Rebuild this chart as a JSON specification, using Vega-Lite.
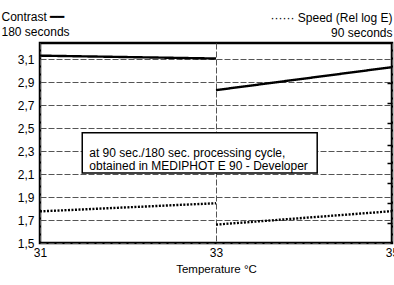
{
  "$schema": "https://vega.github.io/schema/vega-lite/v6.json",
  "autosize": "none",
  "width": 352,
  "height": 200,
  "padding": {"left": 40, "top": 43, "right": 2, "bottom": 42},
  "background": "white",
  "config": {
    "view": {"stroke": "black", "strokeWidth": 2.5},
    "axis": {
      "labelFont": "Liberation Sans",
      "titleFont": "Liberation Sans",
      "labelColor": "black",
      "titleColor": "black",
      "labelFontSize": 12,
      "titleFontSize": 11.5,
      "titleFontWeight": "normal",
      "domain": false,
      "gridColor": "#555555",
      "gridDash": [6, 2],
      "gridWidth": 1,
      "gridOpacity": 1
    }
  },
  "resolve": {"axis": {"x": "independent", "y": "independent"}},
  "datasets": {
    "curves": [
      {"series": "Contrast", "seg": "A", "t": 31, "v": 3.13},
      {"series": "Contrast", "seg": "A", "t": 33, "v": 3.105},
      {"series": "Contrast", "seg": "B", "t": 33, "v": 2.83},
      {"series": "Contrast", "seg": "B", "t": 35, "v": 3.03},
      {"series": "Speed", "seg": "A", "t": 31, "v": 1.775},
      {"series": "Speed", "seg": "A", "t": 33, "v": 1.846},
      {"series": "Speed", "seg": "B", "t": 33, "v": 1.66},
      {"series": "Speed", "seg": "B", "t": 35, "v": 1.777}
    ],
    "note": [
      {"x1": 31.48, "x2": 34.15, "y1": 2.11, "y2": 2.46, "tx": 31.56, "ty": 2.285, "label": "at 90 sec./180 sec. processing cycle,\nobtained in MEDIPHOT E 90 - Developer"}
    ]
  },
  "layer": [
    {
      "data": {"name": "curves"},
      "mark": {"type": "line", "color": "black", "strokeWidth": 2.4},
      "encoding": {
        "x": {
          "field": "t", "type": "quantitative",
          "scale": {"domain": [31, 35], "nice": false},
          "axis": {
            "values": [31, 33, 35], "format": "d", "title": "Temperature °C",
            "tickSize": 0, "labelPadding": 4, "titlePadding": 5,
            "labelFlush": false, "labelOverlap": false
          }
        },
        "y": {
          "field": "v", "type": "quantitative",
          "scale": {"domain": [1.5, 3.24], "nice": false, "zero": false},
          "axis": {
            "values": [1.5, 1.7, 1.9, 2.1, 2.3, 2.5, 2.7, 2.9, 3.1],
            "labelExpr": "replace(format(datum.value, '.1f'), '.', ',')",
            "tickSize": 0, "labelPadding": 6, "labelOverlap": false,
            "title": ["Contrast ━━", "180 seconds"],
            "titleAngle": 0, "titleAlign": "left", "titleBaseline": "top",
            "titleAnchor": "end", "titleX": -39, "titleY": -32,
            "titleFontSize": 12, "titleLineHeight": 15
          }
        },
        "detail": {"field": "seg"},
        "strokeDash": {
          "field": "series", "type": "nominal",
          "scale": {"domain": ["Contrast", "Speed"], "range": [[1, 0], [2, 1.5]]},
          "legend": null
        }
      }
    },
    {
      "data": {"name": "note"},
      "mark": {"type": "rect", "fill": "white", "stroke": "black", "strokeWidth": 1.5},
      "encoding": {
        "x": {
          "field": "x1", "type": "quantitative",
          "axis": {
            "orient": "top", "labels": false, "ticks": false, "grid": false,
            "title": ["······ Speed (Rel log E)", "90 seconds"],
            "titleAnchor": "end", "titleAlign": "right",
            "titleFontSize": 12, "titleLineHeight": 15, "titlePadding": 4
          }
        },
        "x2": {"field": "x2"},
        "y": {
          "field": "y1", "type": "quantitative",
          "axis": {
            "orient": "right", "labels": false, "grid": false, "title": null,
            "values": [1.674, 1.848, 2.022, 2.196, 2.352, 2.543, 2.717, 2.891],
            "offset": -5, "tickSize": 5, "tickColor": "black", "tickWidth": 1.5
          }
        },
        "y2": {"field": "y2"}
      }
    },
    {
      "data": {"name": "note"},
      "mark": {"type": "text", "align": "left", "baseline": "middle", "lineBreak": "\n", "lineHeight": 13, "fontSize": 12, "font": "Liberation Sans", "color": "black"},
      "encoding": {
        "x": {"field": "tx", "type": "quantitative", "axis": null},
        "y": {"field": "ty", "type": "quantitative", "axis": null},
        "text": {"field": "label"}
      }
    }
  ]
}
